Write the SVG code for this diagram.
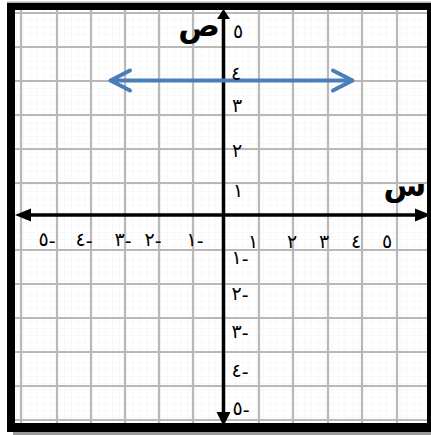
<svg xmlns="http://www.w3.org/2000/svg" width="431" height="435" viewBox="0 0 431 435">
<defs>
<pattern id="minor" patternUnits="userSpaceOnUse" x="23" y="13" width="6.85" height="6.85">
<path d="M0,0 V6.85 M0,0 H6.85" fill="none" stroke="#f2f2f2" stroke-width="1"/>
</pattern>
<style>
.major{stroke:#b8b8b8;stroke-width:2.2;fill:none}
.axis{stroke:#000;stroke-width:3.5;fill:none}
.head{fill:#000}
.num{font-family:"DejaVu Sans",sans-serif;font-size:19px;fill:#000;text-anchor:middle}
.var{font-family:"DejaVu Sans",sans-serif;font-size:31px;font-weight:bold;fill:#000;text-anchor:middle}
.blue{stroke:#4a7ebb;stroke-width:4;fill:none;stroke-linecap:round;stroke-linejoin:round}
</style>
</defs>
<rect x="0" y="0" width="431" height="435" fill="#ffffff"/>
<g id="grid">
<rect x="15" y="10" width="412" height="413" fill="url(#minor)"/>
<path class="major" d="M21,10V423 M57,10V423 M91,10V423 M125,10V423 M159,10V423 M193,10V423 M259,10V423 M293,10V423 M328,10V423 M362,10V423 M397,10V423"/>
<path class="major" d="M15,13H427 M15,47H427 M15,81H427 M15,115H427 M15,149H427 M15,183H427 M15,250H427 M15,284H427 M15,318H427 M15,352H427 M15,386H427 M15,420H427"/>
</g>
<g id="axes">
<path class="axis" d="M28,215H420"/>
<path class="axis" d="M223.5,16V414"/>
<polygon class="head" points="15,215 31,208.5 31,221.5"/>
<polygon class="head" points="431,215 415,208.5 415,221.5"/>
<polygon class="head" points="223.5,9 217,19 230,19"/>
<polygon class="head" points="223.5,426 216.5,412 230.5,412"/>
</g>
<g id="line-y4">
<path class="blue" d="M111,80.5H352"/>
<path class="blue" d="M130,70.5L110.5,80.5L130,90.5"/>
<path class="blue" d="M333,70.5L352.5,80.5L333,90.5"/>
</g>
<g id="y-labels">
<text class="num" x="238" y="38">٥</text>
<text class="num" x="236" y="80">٤</text>
<text class="num" x="237" y="112">٣</text>
<text class="num" x="237" y="157">٢</text>
<text class="num" x="238" y="197">١</text>
<text class="num" x="240" y="264">١<tspan dy="2">-</tspan></text>
<text class="num" x="240" y="300">٢<tspan dy="2">-</tspan></text>
<text class="num" x="240" y="338">٣<tspan dy="2">-</tspan></text>
<text class="num" x="240" y="377">٤<tspan dy="2">-</tspan></text>
<text class="num" x="241" y="415">٥<tspan dy="2">-</tspan></text>
</g>
<g id="x-labels">
<text class="num" x="253" y="248">١</text>
<text class="num" x="292" y="248">٢</text>
<text class="num" x="324" y="248">٣</text>
<text class="num" x="356" y="248">٤</text>
<text class="num" x="387" y="248">٥</text>
<text class="num" x="195" y="246">١<tspan dy="2">-</tspan></text>
<text class="num" x="153" y="246">٢<tspan dy="2">-</tspan></text>
<text class="num" x="123" y="246">٣<tspan dy="2">-</tspan></text>
<text class="num" x="84" y="246">٤<tspan dy="2">-</tspan></text>
<text class="num" x="47" y="246">٥<tspan dy="2">-</tspan></text>
</g>
<g id="axis-names">
<text class="var" x="199" y="36">ص</text>
<text class="var" x="405" y="196">س</text>
</g>
<g id="frame">
<rect x="7" y="1.5" width="424" height="1.5" fill="#b0b0b0"/>
<rect x="13" y="432" width="418" height="3" fill="#9a9a9a"/>
<rect x="7" y="3" width="8" height="429" fill="#000"/>
<rect x="7" y="3" width="424" height="7" fill="#000"/>
<rect x="427" y="3" width="4" height="429" fill="#000"/>
<rect x="7" y="423" width="424" height="9" fill="#000"/>
</g>
</svg>
